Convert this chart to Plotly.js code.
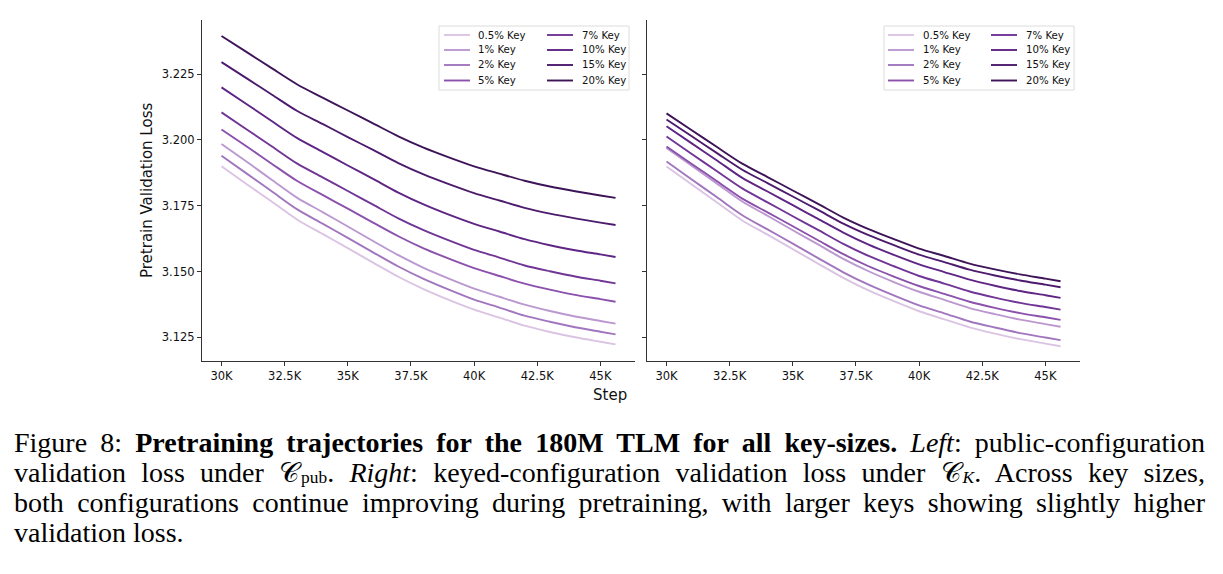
<!DOCTYPE html>
<html>
<head>
<meta charset="utf-8">
<script src="https://cdn.plot.ly/plotly-3.0.1.min.js"></script>
<style>
  html, body { margin: 0; padding: 0; background: #fff; }
  #wrap { position: relative; width: 1223px; height: 574px; overflow: hidden; }
  #chart { position: absolute; left: 0; top: 0; width: 1223px; height: 574px; }
  #caption { position: absolute; left: 14px; top: 428px; width: 1191px;
    font-family: "Liberation Serif", "DejaVu Serif", serif; font-size: 28px; line-height: 30px; color: #000; }
  #caption .ln { text-align: justify; text-align-last: justify; white-space: nowrap; height: 30px; }
  #caption .ln.last { text-align-last: left; }
  #caption sub { font-size: 0.62em; vertical-align: -0.08em; line-height: 1; margin-left: 2px; }
</style>
</head>
<body>
<div id="wrap">
  <div id="chart"></div>
  <div id="caption">
    <div class="ln">Figure 8: <b>Pretraining trajectories for the 180M TLM for all key-sizes.</b> <i>Left</i>: public-configuration</div>
    <div class="ln">validation loss under 𝒞<sub>pub</sub>. <i>Right</i>: keyed-configuration validation loss under 𝒞<sub><i>K</i></sub>. Across key sizes,</div>
    <div class="ln">both configurations continue improving during pretraining, with larger keys showing slightly higher</div>
    <div class="ln last">validation loss.</div>
  </div>
</div>
<script>
// ---------------- data ----------------
const steps = [30000, 31000, 32000, 33000, 34000, 35000, 36000, 37000, 38000, 39000, 40000, 41000, 42000, 43000, 44000, 45000, 45600];

const keyLabels = ["0.5% Key", "1% Key", "2% Key", "5% Key", "7% Key", "10% Key", "15% Key", "20% Key"];
const keyColors = ["#dbc4e3", "#bb98cf", "#a276be", "#8b51ac", "#703596", "#5e2584", "#4d1b6d", "#3e1459"];

// Left: public-configuration validation loss
const pub_0_5 = [3.1900, 3.1832, 3.1765, 3.1697, 3.1643, 3.1589, 3.1534, 3.1480, 3.1433, 3.1392, 3.1355, 3.1325, 3.1294, 3.1270, 3.1250, 3.1233, 3.1223];
const pub_1   = [3.1985, 3.1917, 3.1848, 3.1780, 3.1726, 3.1671, 3.1616, 3.1562, 3.1514, 3.1473, 3.1435, 3.1404, 3.1374, 3.1350, 3.1329, 3.1312, 3.1302];
const pub_2   = [3.1940, 3.1872, 3.1804, 3.1736, 3.1682, 3.1628, 3.1573, 3.1519, 3.1472, 3.1431, 3.1393, 3.1363, 3.1332, 3.1309, 3.1288, 3.1271, 3.1261];
const pub_5   = [3.2040, 3.1975, 3.1909, 3.1844, 3.1791, 3.1739, 3.1686, 3.1634, 3.1588, 3.1549, 3.1513, 3.1483, 3.1454, 3.1431, 3.1411, 3.1395, 3.1385];
const pub_7   = [3.2105, 3.2040, 3.1975, 3.1910, 3.1858, 3.1806, 3.1754, 3.1702, 3.1657, 3.1618, 3.1582, 3.1553, 3.1523, 3.1501, 3.1481, 3.1465, 3.1455];
const pub_10  = [3.2200, 3.2136, 3.2071, 3.2007, 3.1955, 3.1903, 3.1852, 3.1800, 3.1755, 3.1716, 3.1681, 3.1652, 3.1623, 3.1600, 3.1581, 3.1565, 3.1555];
const pub_15  = [3.2296, 3.2234, 3.2172, 3.2110, 3.2061, 3.2011, 3.1962, 3.1912, 3.1869, 3.1832, 3.1798, 3.1770, 3.1742, 3.1720, 3.1702, 3.1686, 3.1677];
const pub_20  = [3.2395, 3.2334, 3.2272, 3.2211, 3.2161, 3.2112, 3.2063, 3.2014, 3.1971, 3.1934, 3.1900, 3.1872, 3.1845, 3.1823, 3.1805, 3.1789, 3.1780];

// Right: keyed-configuration validation loss
const key_0_5 = [3.1899, 3.1831, 3.1762, 3.1694, 3.1640, 3.1585, 3.1530, 3.1476, 3.1428, 3.1387, 3.1349, 3.1318, 3.1288, 3.1264, 3.1243, 3.1226, 3.1216];
const key_1   = [3.1970, 3.1902, 3.1834, 3.1766, 3.1712, 3.1657, 3.1603, 3.1548, 3.1501, 3.1460, 3.1423, 3.1392, 3.1361, 3.1338, 3.1317, 3.1300, 3.1290];
const key_2   = [3.1918, 3.1850, 3.1782, 3.1714, 3.1660, 3.1606, 3.1551, 3.1497, 3.1450, 3.1409, 3.1371, 3.1341, 3.1310, 3.1287, 3.1266, 3.1249, 3.1239];
const key_5   = [3.1975, 3.1909, 3.1843, 3.1777, 3.1725, 3.1672, 3.1619, 3.1566, 3.1520, 3.1481, 3.1445, 3.1415, 3.1385, 3.1362, 3.1342, 3.1326, 3.1316];
const key_7   = [3.2013, 3.1947, 3.1881, 3.1816, 3.1763, 3.1710, 3.1658, 3.1605, 3.1559, 3.1520, 3.1483, 3.1454, 3.1424, 3.1401, 3.1381, 3.1365, 3.1355];
const key_10  = [3.2052, 3.1987, 3.1922, 3.1856, 3.1804, 3.1752, 3.1700, 3.1648, 3.1602, 3.1563, 3.1527, 3.1498, 3.1469, 3.1446, 3.1426, 3.1410, 3.1400];
const key_15  = [3.2078, 3.2014, 3.1950, 3.1887, 3.1836, 3.1785, 3.1734, 3.1682, 3.1638, 3.1600, 3.1564, 3.1536, 3.1507, 3.1485, 3.1466, 3.1450, 3.1440];
const key_20  = [3.2101, 3.2037, 3.1973, 3.1910, 3.1859, 3.1808, 3.1757, 3.1705, 3.1661, 3.1623, 3.1587, 3.1559, 3.1530, 3.1508, 3.1489, 3.1473, 3.1463];

const xTickVals = [30000, 32500, 35000, 37500, 40000, 42500, 45000];
const xTickText = ["30K", "32.5K", "35K", "37.5K", "40K", "42.5K", "45K"];
const yTickVals = [3.125, 3.150, 3.175, 3.200, 3.225];
const yTickText = ["3.125", "3.150", "3.175", "3.200", "3.225"];

const pubSeries = [pub_0_5, pub_1, pub_2, pub_5, pub_7, pub_10, pub_15, pub_20];
const keySeries = [key_0_5, key_1, key_2, key_5, key_7, key_10, key_15, key_20];

// ---------------- chart ----------------
const W = 1223, H = 574;
const px = v => v / W;
const py = v => 1 - v / H;

const traces = [];
pubSeries.forEach((ys, i) => traces.push({
  type: "scatter", mode: "lines", x: steps, y: ys, name: keyLabels[i],
  xaxis: "x", yaxis: "y", showlegend: false,
  line: { color: keyColors[i], width: 1.9, shape: "spline", smoothing: 0.8 }
}));
keySeries.forEach((ys, i) => traces.push({
  type: "scatter", mode: "lines", x: steps, y: ys, name: keyLabels[i],
  xaxis: "x2", yaxis: "y2", showlegend: false,
  line: { color: keyColors[i], width: 1.9, shape: "spline", smoothing: 0.8 }
}));

const tickFont = { family: "DejaVu Sans, sans-serif", size: 11.5, color: "#111" };
const axisCommon = {
  showline: true, linecolor: "#333", linewidth: 1,
  ticks: "outside", ticklen: 4, tickwidth: 1, tickcolor: "#333",
  showgrid: false, zeroline: false, automargin: false, tickfont: tickFont
};
const xRange = [29228, 46370];
const yRange = [3.1161, 3.2456];

const layout = {
  width: W, height: H,
  margin: { l: 0, r: 0, t: 0, b: 0, pad: 0 },
  paper_bgcolor: "#fff", plot_bgcolor: "#fff",
  showlegend: false,
  xaxis: Object.assign({}, axisCommon, {
    domain: [px(202), px(635)], range: xRange, anchor: "y",
    tickmode: "array", tickvals: xTickVals, ticktext: xTickText
  }),
  xaxis2: Object.assign({}, axisCommon, {
    domain: [px(647), px(1080)], range: xRange, anchor: "y2",
    tickmode: "array", tickvals: xTickVals, ticktext: xTickText
  }),
  yaxis: Object.assign({}, axisCommon, {
    domain: [py(360.7), py(20)], range: yRange, anchor: "x",
    tickmode: "array", tickvals: yTickVals, ticktext: yTickText,
    title: { text: "Pretrain Validation Loss", standoff: 5,
             font: { family: "DejaVu Sans, sans-serif", size: 15, color: "#111" } }
  }),
  yaxis2: Object.assign({}, axisCommon, {
    domain: [py(360.7), py(20)], range: yRange, anchor: "x2", matches: "y",
    tickmode: "array", tickvals: yTickVals, showticklabels: false
  }),
  shapes: [],
  annotations: [{
    xref: "paper", yref: "paper", x: px(610), y: py(395),
    xanchor: "center", yanchor: "middle", showarrow: false, text: "Step",
    font: { family: "DejaVu Sans, sans-serif", size: 15, color: "#111" }
  }]
};

// legend boxes (drawn from the series labels/colours)
function addLegend(box) {
  layout.shapes.push({
    type: "rect", xref: "paper", yref: "paper", layer: "above",
    x0: px(box.x0), x1: px(box.x1), y0: py(box.y1), y1: py(box.y0),
    line: { color: "#dcdcdc", width: 1 }, fillcolor: "rgba(255,255,255,0.8)"
  });
  const rows = [35, 50, 65, 80.5];
  keyLabels.forEach((lab, i) => {
    const col = i < 4 ? 0 : 1;
    const r = rows[i % 4];
    const sx = box.swatch[col];
    layout.shapes.push({
      type: "line", xref: "paper", yref: "paper", layer: "above",
      x0: px(sx), x1: px(sx + 26), y0: py(r), y1: py(r),
      line: { color: keyColors[i], width: 1.9 }
    });
    layout.annotations.push({
      xref: "paper", yref: "paper", x: px(box.text[col]), y: py(r),
      xanchor: "left", yanchor: "middle", showarrow: false, text: lab,
      font: { family: "DejaVu Sans, sans-serif", size: 10.2, color: "#111" }
    });
  });
}
addLegend({ x0: 439, x1: 629, y0: 26, y1: 90, swatch: [444, 547], text: [476, 580] });
addLegend({ x0: 884, x1: 1074, y0: 26, y1: 90, swatch: [888, 991], text: [921, 1024] });

Plotly.newPlot("chart", traces, layout, { displayModeBar: false, staticPlot: true });
</script>
</body>
</html>
